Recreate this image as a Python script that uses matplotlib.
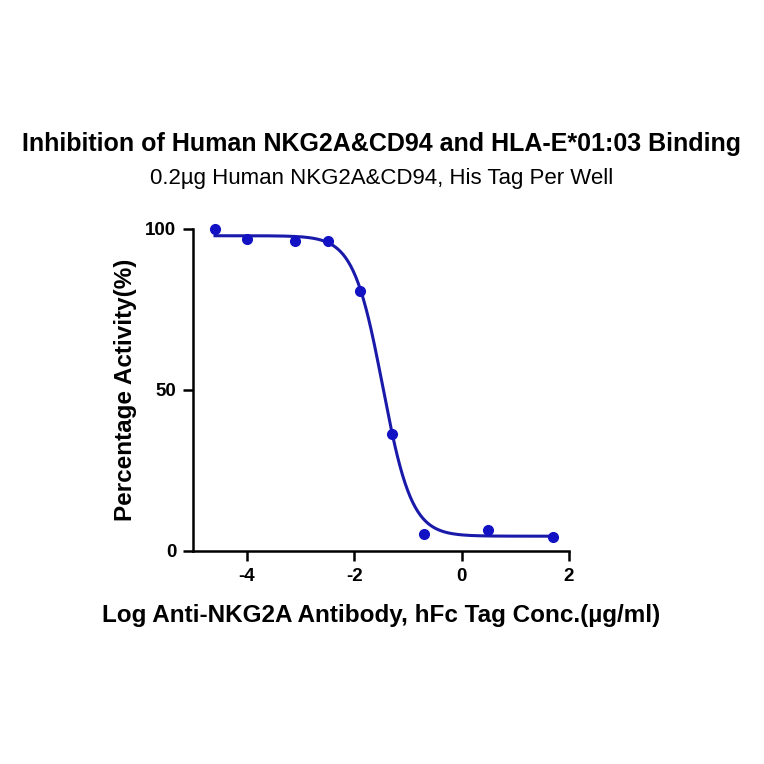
import numpy as np
import matplotlib.pyplot as plt

plt.rcParams['font.family'] = ['Liberation Sans', 'DejaVu Sans']
plt.rcParams['axes.unicode_minus'] = False

# measured points (log conc, % activity)
log_conc = [-4.59, -4.00, -3.11, -2.48, -1.90, -1.29, -0.70, 0.50, 1.71]
activity = [100.0, 96.8, 96.4, 96.4, 80.7, 36.3, 5.3, 6.5, 4.2]

# 4PL fit parameters
fit_top = 97.9
fit_bottom = 4.6
fit_logic50 = -1.47
fit_hill = 1.6

x_ticks = [-4, -2, 0, 2]
y_ticks = [0, 50, 100]

blue_pt = '#1212c4'
blue_ln = '#1a1aaa'

fig = plt.figure(figsize=(7.64, 7.64), dpi=100, facecolor='white')
ax = fig.add_axes([0.2526, 0.2788, 0.4922, 0.4215])

xs = np.linspace(min(log_conc), max(log_conc), 400)
ys = fit_bottom + (fit_top - fit_bottom) / (1 + 10 ** ((xs - fit_logic50) * fit_hill))
ax.plot(xs, ys, color=blue_ln, linewidth=2.2, zorder=2, clip_on=False)
ax.plot(log_conc, activity, 'o', color=blue_pt, markersize=7, zorder=3, clip_on=False)

ax.set_xlim(-5, 2)
ax.set_ylim(0, 100)
ax.set_xticks(x_ticks)
ax.set_yticks(y_ticks)

for s in ['top', 'right']:
    ax.spines[s].set_visible(False)
for s in ['left', 'bottom']:
    ax.spines[s].set_linewidth(1.8)
    ax.spines[s].set_color('black')

ax.tick_params(axis='both', length=7, width=1.8, labelsize=13.5, pad=5)
for lbl in ax.get_xticklabels() + ax.get_yticklabels():
    lbl.set_fontweight('bold')

ax.set_xlabel('Log Anti-NKG2A Antibody, hFc Tag Conc.(µg/ml)', fontsize=17.5,
              fontweight='bold', labelpad=14)
ax.set_ylabel('Percentage Activity(%)', fontsize=17.5, fontweight='bold', labelpad=6)

fig.text(0.5, 0.812, 'Inhibition of Human NKG2A&CD94 and HLA-E*01:03 Binding',
         ha='center', va='center', fontsize=18, fontweight='bold')
fig.text(0.5, 0.767, '0.2µg Human NKG2A&CD94, His Tag Per Well',
         ha='center', va='center', fontsize=16)

fig.savefig('out.png', dpi=100, facecolor='white')
